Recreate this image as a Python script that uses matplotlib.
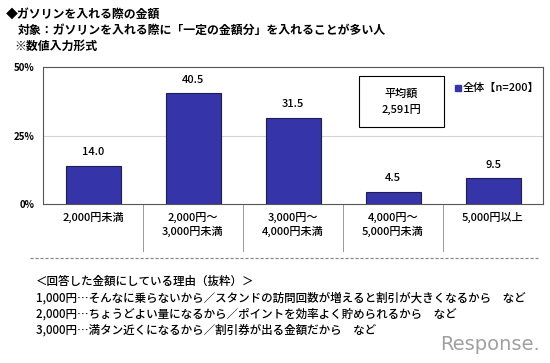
import matplotlib
matplotlib.use("Agg")
import matplotlib.pyplot as plt
from matplotlib.lines import Line2D
from matplotlib.patches import Rectangle

plt.rcParams["font.family"] = ["Noto Sans CJK JP", "DejaVu Sans"]

# data
categories = ["2,000円未満", "2,000円～\n3,000円未満", "3,000円～\n4,000円未満",
              "4,000円～\n5,000円未満", "5,000円以上"]
values = [14.0, 40.5, 31.5, 4.5, 9.5]
y_ticks = [0, 25, 50]
y_tick_labels = ["0%", "25%", "50%"]
series_name = "全体【n=200】"
mean_text = "平均額\n2,591円"
title_lines = ["◆ガソリンを入れる際の金額",
               "対象：ガソリンを入れる際に「一定の金額分」を入れることが多い人",
               "※数値入力形式"]
reason_lines = ["＜回答した金額にしている理由（抜粋）＞",
                "1,000円…そんなに乗らないから／スタンドの訪問回数が増えると割引が大きくなるから　など",
                "2,000円…ちょうどよい量になるから／ポイントを効率よく貯められるから　など",
                "3,000円…満タン近くになるから／割引券が出る金額だから　など"]

W, H = 550, 363
fig = plt.figure(figsize=(W / 100, H / 100), dpi=100)
fig.patch.set_facecolor("white")


def fx(px):
    return px / W


def fy(py):
    return 1 - py / H


ax = fig.add_axes([fx(43), fy(204), fx(543) - fx(43), fy(67) - fy(204)])

bar_color = "#3535a9"
x = list(range(len(categories)))
ax.bar(x, values, width=0.55, color=bar_color, edgecolor="#1c1c5a",
       linewidth=0.8, zorder=3)
for xi, v in zip(x, values):
    ax.text(xi, v + 3.0, f"{v:.1f}", ha="center", va="bottom", fontsize=8,
            fontweight="medium", color="black")

ax.set_xlim(-0.5, len(categories) - 0.5)
ax.set_ylim(0, 50)
ax.set_yticks(y_ticks)
ax.set_yticklabels(y_tick_labels, fontsize=7, fontweight="bold")
ax.tick_params(axis="y", length=0, pad=6)
ax.set_xticks(x)
ax.set_xticklabels(categories, fontsize=8, fontweight="medium",
                   linespacing=1.3, va="top")
ax.tick_params(axis="x", length=0, pad=6)
ax.axhline(25, color="#d4d4d4", linewidth=0.8, zorder=1)
for s in ax.spines.values():
    s.set_color("#555555")
    s.set_linewidth(0.8)

# separators between category labels
for b in range(1, len(categories)):
    ax.add_line(Line2D([b - 0.5, b - 0.5], [0, -17], color="#999999",
                       linewidth=0.7, clip_on=False))

# mean box
fig.patches.append(Rectangle((fx(359), fy(127)), fx(444) - fx(359),
                             fy(76) - fy(127), facecolor="white",
                             edgecolor="black", linewidth=0.8,
                             transform=fig.transFigure))
fig.text(fx(401.5), fy(101.5), mean_text, ha="center", va="center",
         fontsize=8, fontweight="medium", linespacing=1.6)

# legend
fig.patches.append(Rectangle((fx(455), fy(91)), fx(6), 6 / H, color=bar_color,
                             transform=fig.transFigure))
fig.text(fx(463), fy(88), series_name, fontsize=8, fontweight="medium",
         va="center", ha="left")

# titles
title_pos = [(6, 14), (18, 30), (14, 46)]
for (px, py), t in zip(title_pos, title_lines):
    fig.text(fx(px), fy(py), t, fontsize=8.6, fontweight="bold", va="center",
             ha="left")

# dashed divider
fig.add_artist(Line2D([fx(30), fx(538)], [fy(258), fy(258)], color="#888888",
                      linewidth=0.9, linestyle=(0, (2.5, 1.5))))

reason_y = [281, 298, 314, 330]
for py, t in zip(reason_y, reason_lines):
    fig.text(fx(36), fy(py), t, fontsize=8.3, fontweight="medium",
             va="center", ha="left")

fig.text(fx(540), fy(344), "Response.", fontsize=14, color="#a0a0a0",
         ha="right", va="center", family="DejaVu Sans")

fig.savefig("out.png", dpi=100)
